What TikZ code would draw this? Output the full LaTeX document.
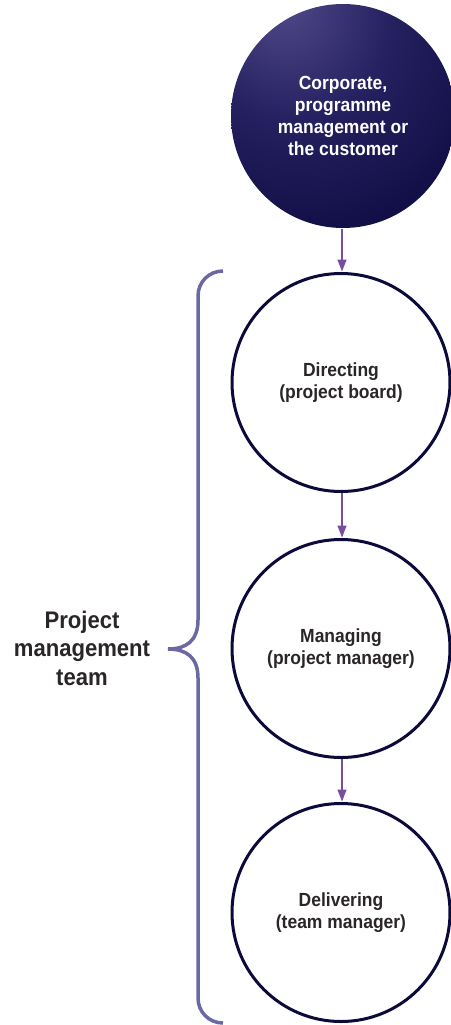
\documentclass[tikz,border=0pt]{standalone}
\usepackage{fontspec}
\setmainfont{Liberation Sans}[FakeStretch=0.92]
\usetikzlibrary{arrows.meta}
\definecolor{navy}{HTML}{0C0A40}
\definecolor{navymid}{HTML}{25205F}
\definecolor{glow}{HTML}{514A8A}
\definecolor{ringcol}{HTML}{0B0A3A}
\definecolor{arrowcol}{HTML}{7A4E9E}
\definecolor{bracecol}{HTML}{6C68A4}
\definecolor{txtcol}{HTML}{2A2627}
\pgfdeclareradialshading{topglow}{\pgfpoint{-14bp}{26bp}}{%
  color(0bp)=(glow); color(22bp)=(navymid); color(48bp)=(navy); color(110bp)=(navy)}
\tikzset{
  stage/.style={circle, draw=ringcol, line width=3pt, minimum size=218pt,
    inner sep=0pt, align=center, text=txtcol,
    font=\bfseries\fontsize{19}{22}\selectfont},
  topstage/.style={circle, shading=topglow, minimum size=224pt, inner sep=0pt,
    align=center, text=white, font=\bfseries\fontsize{19}{22}\selectfont},
  flow/.style={draw=arrowcol, line width=1.5pt,
    -{Triangle[length=12pt,width=9pt]}, shorten >=0.5pt},
  bracket/.style={draw=bracecol, line width=3.5pt},
  teamlabel/.style={align=center, text=txtcol,
    font=\bfseries\fontsize{24}{28.5}\selectfont}
}
\begin{document}
\begin{tikzpicture}[x=1pt,y=-1pt]
\useasboundingbox (0,0) rectangle (450,1025);
\node[topstage] (corp) at (343,116) {Corporate,\\programme\\management or\\the customer};
\node[stage] (dir) at (341,382.5) {Directing\\(project board)};
\node[stage] (man) at (341,648.5) {Managing\\(project manager)};
\node[stage] (del) at (341,912.5) {Delivering\\(team manager)};
\coordinate (corpbot) at (342,229);
\draw[flow] (corpbot) -- (dir.north -| corpbot);
\draw[flow] (dir.south -| corpbot) -- (man.north -| corpbot);
\draw[flow] (man.south -| corpbot) -- (del.north -| corpbot);
\coordinate (btop) at (223,271);
\coordinate (bbot) at (223,1023);
\coordinate (btip) at (168,649);
\draw[bracket] (btop) .. controls (209,271) and (198,282) .. (198,296)
  -- (198,620) .. controls (198,641) and (186,649) .. (btip)
  .. controls (186,649) and (198,657) .. (198,678)
  -- (198,998) .. controls (198,1012) and (209,1023) .. (bbot);
\node[teamlabel] (team) at (82,648) {Project\\management\\team};
\end{tikzpicture}
\end{document}
